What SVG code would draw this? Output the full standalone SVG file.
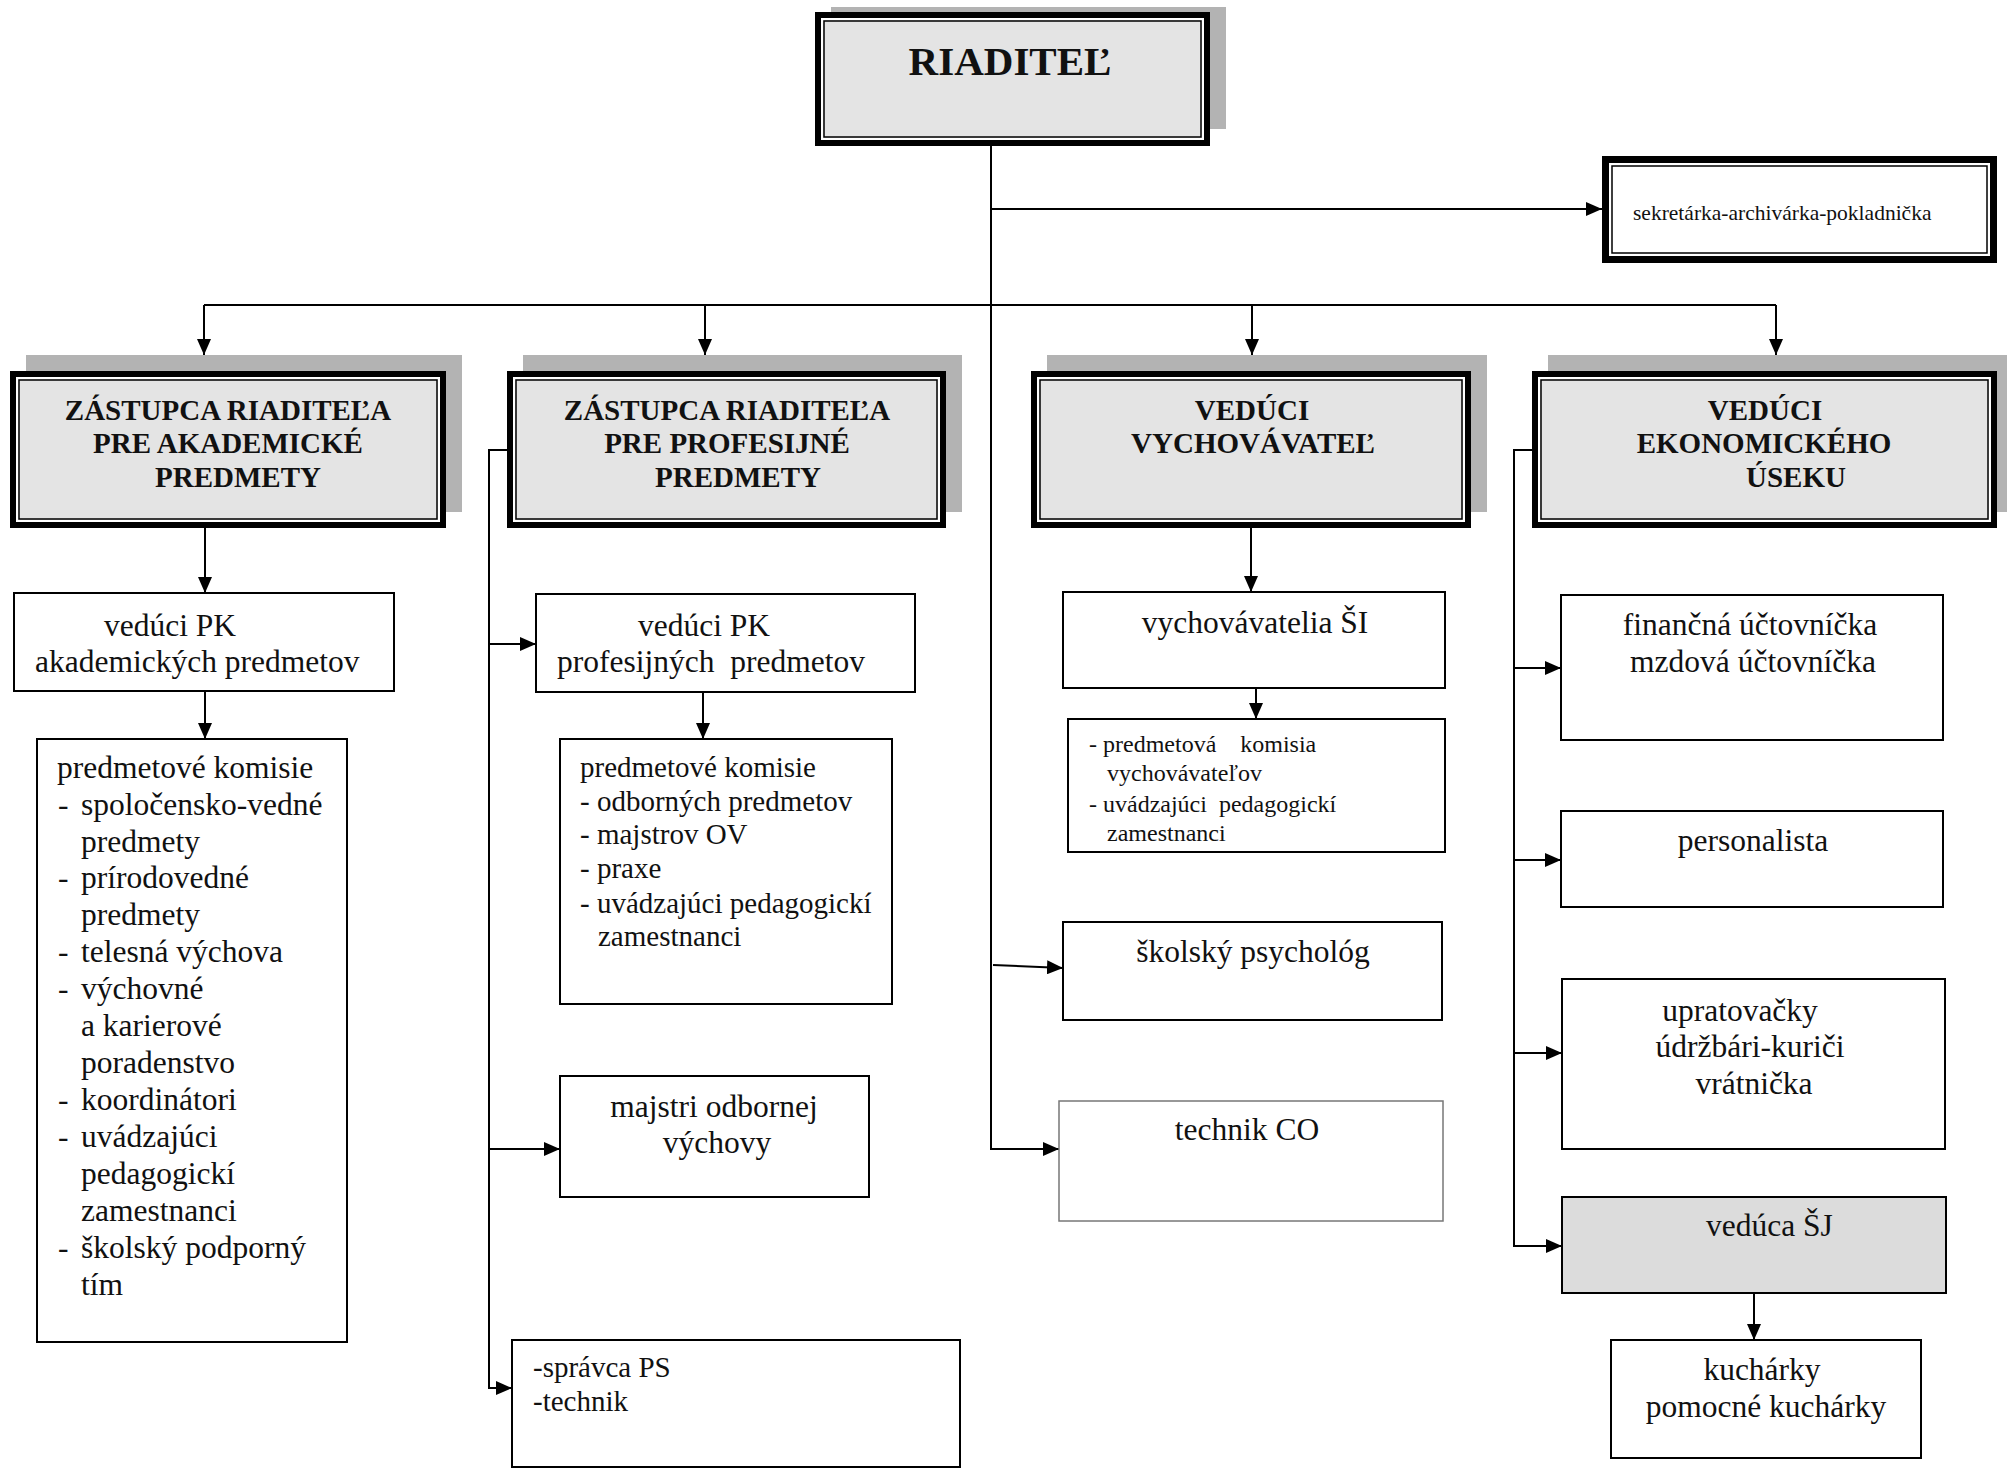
<svg xmlns="http://www.w3.org/2000/svg" width="2007" height="1470" viewBox="0 0 2007 1470">
<defs>
<style>
.bg{fill:#ffffff}
.shadow{fill:#b3b3b3}
.hb{fill:#e4e4e4;stroke:#000;stroke-width:6}
.hg{fill:none;stroke:#fff;stroke-width:2}
.hi{fill:none;stroke:#000;stroke-width:1.5}
.sb{fill:#fff;stroke:#000;stroke-width:7}
.box{fill:#fff;stroke:#000;stroke-width:2}
.boxl{fill:#fff;stroke:#777;stroke-width:1.5}
.boxg{fill:#dcdcdc;stroke:#000;stroke-width:2}
.con{fill:none;stroke:#000;stroke-width:2}
text{font-family:"Liberation Serif","Times New Roman",serif;fill:#111}
.h{font-weight:bold;font-size:29px;text-anchor:middle}
.t{font-size:31.5px}
.c{text-anchor:middle}
.m{font-size:29px}
.s{font-size:24px}
</style>
<marker id="ar" markerUnits="userSpaceOnUse" markerWidth="16" markerHeight="14" refX="16" refY="7" orient="auto">
<path d="M0,0 L16,7 L0,14 Z" fill="#000"/>
</marker>
</defs>
<rect class="bg" x="0" y="0" width="2007" height="1470"/>

<g id="connectors">
<path class="con" d="M991,146 V1149 H1059" marker-end="url(#ar)"/>
<path class="con" d="M991,209 H1602" marker-end="url(#ar)"/>
<path class="con" d="M204,305 H1776"/>
<path class="con" d="M204,305 V355" marker-end="url(#ar)"/>
<path class="con" d="M705,305 V355" marker-end="url(#ar)"/>
<path class="con" d="M1252,305 V355" marker-end="url(#ar)"/>
<path class="con" d="M1776,305 V355" marker-end="url(#ar)"/>
<path class="con" d="M993,965 L1063,968" marker-end="url(#ar)"/>
<path class="con" d="M205,528 V593" marker-end="url(#ar)"/>
<path class="con" d="M205,691 V739" marker-end="url(#ar)"/>
<path class="con" d="M507,450 H489 V1388 H512" marker-end="url(#ar)"/>
<path class="con" d="M489,644 H536" marker-end="url(#ar)"/>
<path class="con" d="M489,1149 H560" marker-end="url(#ar)"/>
<path class="con" d="M703,692 V739" marker-end="url(#ar)"/>
<path class="con" d="M1251,528 V592" marker-end="url(#ar)"/>
<path class="con" d="M1256,688 V719" marker-end="url(#ar)"/>
<path class="con" d="M1532,450 H1514 V1246 H1562" marker-end="url(#ar)"/>
<path class="con" d="M1514,668 H1561" marker-end="url(#ar)"/>
<path class="con" d="M1514,860 H1561" marker-end="url(#ar)"/>
<path class="con" d="M1514,1053 H1562" marker-end="url(#ar)"/>
<path class="con" d="M1754,1293 V1340" marker-end="url(#ar)"/>
</g>

<g id="riaditel">
<rect class="shadow" x="831" y="7" width="395" height="122"/>
<rect class="hb" x="818" y="15" width="389" height="128"/>
<rect class="hg" x="822" y="19" width="381" height="120"/>
<rect class="hi" x="824" y="21" width="377" height="116"/>
<text x="1010" y="75" font-size="41" font-weight="bold" text-anchor="middle">RIADITEĽ</text>
</g>

<g id="sekretarka">
<rect class="sb" x="1605.5" y="159.5" width="388" height="100"/>
<rect class="hi" x="1612" y="166" width="375" height="87"/>
<text x="1633" y="220" font-size="21.5">sekretárka-archivárka-pokladnička</text>
</g>

<g id="zastupca-akad">
<rect class="shadow" x="26" y="355" width="436" height="157"/>
<rect class="hb" x="13" y="374" width="430" height="151"/>
<rect class="hg" x="17" y="378" width="422" height="143"/>
<rect class="hi" x="19" y="380" width="418" height="139"/>
<text class="h" x="228" y="420">ZÁSTUPCA RIADITEĽA</text>
<text class="h" x="228" y="453">PRE AKADEMICKÉ</text>
<text class="h" x="238" y="487">PREDMETY</text>
</g>

<g id="zastupca-prof">
<rect class="shadow" x="523" y="355" width="439" height="157"/>
<rect class="hb" x="510" y="374" width="433" height="151"/>
<rect class="hg" x="514" y="378" width="425" height="143"/>
<rect class="hi" x="516" y="380" width="421" height="139"/>
<text class="h" x="727" y="420">ZÁSTUPCA RIADITEĽA</text>
<text class="h" x="727" y="453">PRE PROFESIJNÉ</text>
<text class="h" x="738" y="487">PREDMETY</text>
</g>

<g id="veduci-vychovavatel">
<rect class="shadow" x="1047" y="355" width="440" height="157"/>
<rect class="hb" x="1034" y="374" width="434" height="151"/>
<rect class="hg" x="1038" y="378" width="426" height="143"/>
<rect class="hi" x="1040" y="380" width="422" height="139"/>
<text class="h" x="1252" y="420">VEDÚCI</text>
<text class="h" x="1253" y="453">VYCHOVÁVATEĽ</text>
</g>

<g id="veduci-ekonomickeho">
<rect class="shadow" x="1548" y="355" width="465" height="157"/>
<rect class="hb" x="1535" y="374" width="459" height="151"/>
<rect class="hg" x="1539" y="378" width="451" height="143"/>
<rect class="hi" x="1541" y="380" width="447" height="139"/>
<text class="h" x="1765" y="420">VEDÚCI</text>
<text class="h" x="1764" y="453">EKONOMICKÉHO</text>
<text class="h" x="1796" y="487" text-anchor="start">ÚSEKU</text>
</g>

<g id="veduci-pk-akad">
<rect class="box" x="14" y="593" width="380" height="98"/>
<text class="t" x="104" y="636">vedúci PK</text>
<text class="t" x="35" y="672">akademických predmetov</text>
</g>

<g id="komisie-akad">
<rect class="box" x="37" y="739" width="310" height="603"/>
<text class="t" x="57" y="778">predmetové komisie</text>
<text class="t"><tspan x="58" y="815">-</tspan><tspan x="81" y="815">spoločensko-vedné</tspan></text>
<text class="t" x="81" y="852">predmety</text>
<text class="t"><tspan x="58" y="888">-</tspan><tspan x="81" y="888">prírodovedné</tspan></text>
<text class="t" x="81" y="925">predmety</text>
<text class="t"><tspan x="58" y="962">-</tspan><tspan x="81" y="962">telesná výchova</tspan></text>
<text class="t"><tspan x="58" y="999">-</tspan><tspan x="81" y="999">výchovné</tspan></text>
<text class="t" x="81" y="1036">a karierové</text>
<text class="t" x="81" y="1073">poradenstvo</text>
<text class="t"><tspan x="58" y="1110">-</tspan><tspan x="81" y="1110">koordinátori</tspan></text>
<text class="t"><tspan x="58" y="1147">-</tspan><tspan x="81" y="1147">uvádzajúci</tspan></text>
<text class="t" x="81" y="1184">pedagogickí</text>
<text class="t" x="81" y="1221">zamestnanci</text>
<text class="t"><tspan x="58" y="1258">-</tspan><tspan x="81" y="1258">školský podporný</tspan></text>
<text class="t" x="81" y="1295">tím</text>
</g>

<g id="veduci-pk-prof">
<rect class="box" x="536" y="594" width="379" height="98"/>
<text class="t" x="638" y="636">vedúci PK</text>
<text class="t" x="557" y="672" xml:space="preserve">profesijných  predmetov</text>
</g>

<g id="komisie-prof">
<rect class="box" x="560" y="739" width="332" height="265"/>
<text class="m" x="580" y="777">predmetové komisie</text>
<text class="m" x="580" y="811">- odborných predmetov</text>
<text class="m" x="580" y="844">- majstrov OV</text>
<text class="m" x="580" y="878">- praxe</text>
<text class="m" x="580" y="913">- uvádzajúci pedagogickí</text>
<text class="m" x="598" y="946">zamestnanci</text>
</g>

<g id="majstri">
<rect class="box" x="560" y="1076" width="309" height="121"/>
<text class="t c" x="714" y="1117">majstri odbornej</text>
<text class="t c" x="717" y="1153">výchovy</text>
</g>

<g id="spravca">
<rect class="box" x="512" y="1340" width="448" height="127"/>
<text class="m" x="533" y="1377">-správca PS</text>
<text class="m" x="533" y="1411">-technik</text>
</g>

<g id="vychovavatelia">
<rect class="box" x="1063" y="592" width="382" height="96"/>
<text class="t c" x="1255" y="633">vychovávatelia ŠI</text>
</g>

<g id="komisia-vych">
<rect class="box" x="1068" y="719" width="377" height="133"/>
<text class="s" x="1089" y="752" xml:space="preserve">- predmetová    komisia</text>
<text class="s" x="1107" y="781">vychovávateľov</text>
<text class="s" x="1089" y="812" xml:space="preserve">- uvádzajúci  pedagogickí</text>
<text class="s" x="1107" y="841">zamestnanci</text>
</g>

<g id="psycholog">
<rect class="box" x="1063" y="922" width="379" height="98"/>
<text class="t c" x="1253" y="962">školský psychológ</text>
</g>

<g id="technik-co">
<rect class="boxl" x="1059" y="1101" width="384" height="120"/>
<text class="t c" x="1247" y="1140">technik CO</text>
</g>

<g id="uctovnicky">
<rect class="box" x="1561" y="595" width="382" height="145"/>
<text class="t c" x="1750" y="635">finančná účtovníčka</text>
<text class="t c" x="1753" y="672">mzdová účtovníčka</text>
</g>

<g id="personalista">
<rect class="box" x="1561" y="811" width="382" height="96"/>
<text class="t c" x="1753" y="851">personalista</text>
</g>

<g id="upratovacky">
<rect class="box" x="1562" y="979" width="383" height="170"/>
<text class="t c" x="1740" y="1021">upratovačky</text>
<text class="t c" x="1750" y="1057">údržbári-kuriči</text>
<text class="t c" x="1754" y="1094">vrátnička</text>
</g>

<g id="veduca-sj">
<rect class="boxg" x="1562" y="1197" width="384" height="96"/>
<text class="t" x="1706" y="1236">vedúca ŠJ</text>
</g>

<g id="kucharky">
<rect class="box" x="1611" y="1340" width="310" height="118"/>
<text class="t c" x="1762" y="1380">kuchárky</text>
<text class="t c" x="1766" y="1417">pomocné kuchárky</text>
</g>
</svg>
